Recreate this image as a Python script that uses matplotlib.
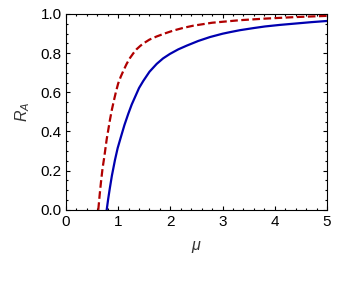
import numpy as np
import matplotlib
matplotlib.use('Agg')
import matplotlib.pyplot as plt
from matplotlib.ticker import MultipleLocator, FormatStrFormatter

plt.rcParams['font.family'] = ['Liberation Sans', 'DejaVu Sans']
plt.rcParams['mathtext.fontset'] = 'custom'
plt.rcParams['mathtext.it'] = 'Liberation Sans:italic'
plt.rcParams['mathtext.rm'] = 'Liberation Sans'
plt.rcParams['lines.scale_dashes'] = False

# values
mu_blue = [0.78, 0.81, 0.84, 0.88, 0.939, 0.99, 1.05, 1.12, 1.193, 1.26, 1.33,
           1.40, 1.481, 1.60, 1.738, 1.86, 1.992, 2.15, 2.312, 2.534, 2.759,
           3.0, 3.142, 3.333, 3.6, 3.812, 4.1, 4.4, 4.7, 5.0]
ra_blue = [0.0, 0.058, 0.11, 0.175, 0.255, 0.315, 0.37, 0.433, 0.49, 0.538,
           0.58, 0.622, 0.658, 0.705, 0.745, 0.773, 0.796, 0.819, 0.838, 0.862,
           0.882, 0.899, 0.907, 0.917, 0.928, 0.936, 0.944, 0.951, 0.958, 0.964]

mu_red = [0.619, 0.645, 0.67, 0.70, 0.734, 0.78, 0.843, 0.88, 0.92, 0.96, 1.0,
          1.05, 1.1, 1.16, 1.226, 1.29, 1.35, 1.42, 1.481, 1.6, 1.738, 1.9,
          2.056, 2.25, 2.44, 2.8, 3.333, 3.812, 4.4, 5.0]
ra_red = [0.0, 0.075, 0.14, 0.21, 0.27, 0.36, 0.46, 0.512, 0.56, 0.605, 0.645,
          0.68, 0.71, 0.744, 0.775, 0.799, 0.819, 0.836, 0.849, 0.869, 0.885,
          0.901, 0.915, 0.929, 0.94, 0.955, 0.968, 0.976, 0.984, 0.99]

fig = plt.figure(figsize=(3.49, 2.84), dpi=100)
ax = fig.add_axes([0.189, 0.261, 0.748, 0.690])

ax.plot(mu_blue, ra_blue, color='#0000b0', lw=1.6)
ax.plot(mu_red, ra_red, color='#b00000', lw=1.6, dashes=(5.5, 2.5))

ax.set_xlim(0, 5)
ax.set_ylim(0, 1)
ax.xaxis.set_major_locator(MultipleLocator(1))
ax.xaxis.set_minor_locator(MultipleLocator(0.2))
ax.yaxis.set_major_locator(MultipleLocator(0.2))
ax.yaxis.set_minor_locator(MultipleLocator(0.05))
ax.yaxis.set_major_formatter(FormatStrFormatter('%.1f'))
ax.tick_params(which='both', direction='in', top=True, right=True,
               width=0.8, labelsize=11)
ax.tick_params(which='major', length=3.2)
ax.tick_params(which='minor', length=1.6)
ax.tick_params(axis='x', pad=4)
ax.tick_params(axis='y', pad=3)
for s in ax.spines.values():
    s.set_linewidth(0.8)

ax.set_xlabel(r'$\mu$', fontsize=11.5, color='#333333', labelpad=7)
ax.set_ylabel(r'$R_A$', fontsize=11.5, color='#333333', labelpad=6)

fig.savefig('out.png', dpi=100)
